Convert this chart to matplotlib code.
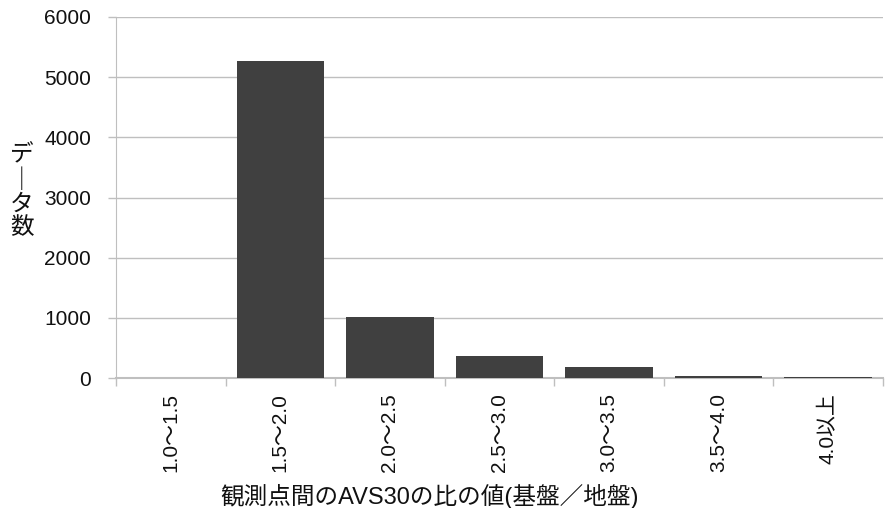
import matplotlib
matplotlib.use("Agg")
import matplotlib.pyplot as plt

plt.rcParams['font.family'] = ['Liberation Sans', 'Noto Sans CJK JP', 'DejaVu Sans']

categories = ['1.0～1.5', '1.5～2.0', '2.0～2.5', '2.5～3.0', '3.0～3.5', '3.5～4.0', '4.0以上']
counts = [0, 5270, 1020, 360, 185, 40, 15]
y_ticks = [0, 1000, 2000, 3000, 4000, 5000, 6000]

fig = plt.figure(figsize=(8.85, 5.08), dpi=100)
ax = fig.add_axes([116/885, 1 - 378/508, (883 - 116)/885, (378 - 17)/508])

x = list(range(len(categories)))
ax.bar(x, counts, width=0.8, color='#404040', zorder=3)

ax.set_xlim(-0.5, len(categories) - 0.5)
ax.set_ylim(0, 6000)
ax.set_yticks(y_ticks)
ax.set_yticklabels([str(v) for v in y_ticks], fontsize=15, color='#111111')

ax.set_xticks(x)
ax.set_xticklabels(categories, rotation=90, fontsize=15, color='#111111')
ax.tick_params(axis='x', which='major', length=0, pad=11)
ax.set_xticks([i + 0.5 for i in range(-1, len(categories))], minor=True)
ax.tick_params(axis='x', which='minor', length=6, color='#bfbfbf', width=1)
ax.tick_params(axis='y', length=6, color='#bfbfbf', width=1, pad=12)

ax.grid(axis='y', color='#bfbfbf', linewidth=1, zorder=0)
for s in ['top', 'right']:
    ax.spines[s].set_visible(False)
ax.spines['left'].set_color('#bfbfbf')
ax.spines['bottom'].set_color('#bfbfbf')
ax.spines['bottom'].set_linewidth(1.5)

fig.text(430/885, 1 - 496/508, '観測点間のAVS30の比の値(基盤／地盤)',
         fontsize=17, ha='center', va='center', color='#111111')
fig.text(22/885, 1 - 192/508, 'デ\n｜\nタ\n数', fontsize=17, ha='center', va='center',
         color='#111111', linespacing=1.1)

fig.savefig('out.png', dpi=100)
